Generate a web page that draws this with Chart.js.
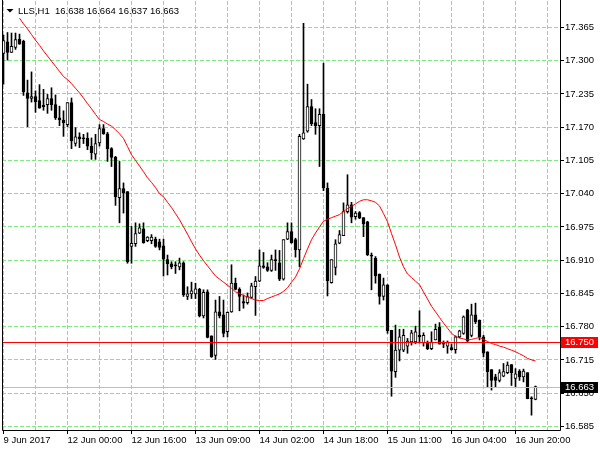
<!DOCTYPE html>
<html><head><meta charset="utf-8">
<script src="https://cdn.jsdelivr.net/npm/chart.js@4.4.0/dist/chart.umd.min.js"></script>
<style>html,body{margin:0;padding:0;background:#fff;}canvas{display:block;}</style>
</head><body>
<canvas id="c" width="600" height="450"></canvas>
<script>
const symbolName = 'LLS,H1';
const opens = [17.314,17.337,17.316,17.326,17.342,17.338,17.237,17.226,17.230,17.222,
 17.213,17.214,17.226,17.214,17.188,17.184,17.175,17.218,17.138,17.151,
 17.148,17.148,17.133,17.117,17.139,17.167,17.157,17.128,17.111,17.032,
 17.050,17.044,16.937,16.942,16.963,16.971,16.948,16.948,16.951,16.946,
 16.938,16.911,16.903,16.901,16.897,16.905,16.839,16.844,16.844,16.853,
 16.801,16.848,16.762,16.724,16.809,16.803,16.770,16.809,16.865,16.853,
 16.829,16.827,16.837,16.858,16.869,16.899,16.897,16.890,16.910,16.905,
 16.873,16.951,16.966,16.950,16.930,17.147,17.162,17.210,17.179,17.173,
 17.195,17.051,16.866,16.896,16.943,16.958,17.005,17.018,16.995,17.003,
 16.993,16.985,16.920,16.914,16.883,16.839,16.862,16.773,16.692,16.734,
 16.734,16.742,16.750,16.750,16.763,16.748,16.750,16.737,16.754,16.779,
 16.748,16.742,16.739,16.735,16.760,16.767,16.813,16.763,16.803,16.793,
 16.760,16.731,16.696,16.682,16.675,16.683,16.690,16.706,16.679,16.693,
 16.682,16.690,16.640,16.638];
const highs = [17.350,17.355,17.354,17.354,17.352,17.340,17.262,17.278,17.241,17.253,
 17.244,17.234,17.247,17.233,17.211,17.202,17.218,17.227,17.169,17.159,
 17.156,17.159,17.149,17.156,17.175,17.175,17.160,17.130,17.113,17.103,
 17.061,17.044,16.976,16.983,16.981,16.983,16.956,16.960,16.955,16.951,
 16.951,16.920,16.907,16.907,16.914,16.907,16.858,16.867,16.865,16.855,
 16.852,16.852,16.762,16.832,16.839,16.832,16.809,16.901,16.875,16.856,
 16.842,16.846,16.865,16.878,16.930,16.925,16.905,16.920,16.930,16.929,
 16.950,16.983,16.983,16.953,17.156,17.373,17.254,17.224,17.206,17.206,
 17.295,17.061,16.911,16.950,16.968,17.022,17.077,17.023,17.005,17.005,
 16.993,16.986,16.924,16.917,16.883,16.875,16.862,16.773,16.783,16.775,
 16.775,16.757,16.773,16.781,16.811,16.768,16.752,16.770,16.785,16.788,
 16.752,16.752,16.746,16.762,16.773,16.801,16.814,16.824,16.826,16.793,
 16.763,16.731,16.696,16.687,16.696,16.708,16.711,16.706,16.698,16.696,
 16.697,16.690,16.643,16.664];
const lows = [17.254,17.301,17.316,17.322,17.332,17.232,17.171,17.219,17.199,17.207,
 17.203,17.197,17.203,17.185,17.173,17.152,17.171,17.128,17.133,17.130,
 17.138,17.126,17.107,17.107,17.133,17.156,17.103,17.093,17.017,16.983,
 17.002,16.904,16.904,16.937,16.962,16.943,16.946,16.942,16.935,16.930,
 16.879,16.881,16.893,16.884,16.891,16.839,16.833,16.835,16.835,16.799,
 16.797,16.758,16.720,16.716,16.797,16.760,16.760,16.808,16.852,16.811,
 16.816,16.824,16.835,16.802,16.868,16.894,16.888,16.888,16.890,16.870,
 16.871,16.950,16.943,16.916,16.897,17.146,17.160,17.173,17.156,17.093,
 17.046,16.840,16.865,16.881,16.942,16.958,17.002,16.983,16.990,16.991,
 16.956,16.919,16.852,16.865,16.824,16.832,16.767,16.644,16.681,16.713,
 16.731,16.728,16.744,16.747,16.748,16.742,16.735,16.735,16.754,16.746,
 16.739,16.728,16.734,16.728,16.758,16.765,16.750,16.760,16.786,16.754,
 16.721,16.662,16.656,16.662,16.672,16.682,16.688,16.665,16.662,16.675,
 16.672,16.639,16.607,16.637];
const closes = [17.339,17.316,17.328,17.341,17.332,17.239,17.226,17.230,17.220,17.207,
 17.210,17.226,17.214,17.188,17.184,17.179,17.218,17.143,17.151,17.147,
 17.147,17.133,17.120,17.138,17.167,17.157,17.128,17.111,17.034,17.050,
 17.042,16.907,16.943,16.962,16.973,16.944,16.955,16.955,16.937,16.935,
 16.912,16.903,16.897,16.899,16.905,16.842,16.844,16.850,16.854,16.801,
 16.847,16.759,16.721,16.809,16.801,16.767,16.808,16.865,16.853,16.839,
 16.826,16.839,16.860,16.869,16.899,16.896,16.890,16.911,16.909,16.873,
 16.950,16.966,16.944,16.930,17.152,17.159,17.210,17.177,17.173,17.195,
 17.051,16.870,16.911,16.942,16.960,17.005,17.018,16.994,17.002,16.992,
 16.981,16.920,16.918,16.879,16.839,16.862,16.772,16.693,16.734,16.760,
 16.763,16.752,16.768,16.770,16.760,16.763,16.737,16.750,16.775,16.746,
 16.746,16.750,16.735,16.760,16.772,16.799,16.752,16.803,16.790,16.760,
 16.728,16.692,16.675,16.675,16.690,16.692,16.705,16.690,16.688,16.682,
 16.693,16.639,16.639,16.663];
const maValues = [null,null,null,null,17.383,17.372,17.362,17.351,17.340,17.330,
 17.319,17.309,17.299,17.289,17.279,17.269,17.263,17.255,17.246,17.237,
 17.227,17.216,17.206,17.195,17.185,17.181,17.176,17.172,17.165,17.157,
 17.148,17.132,17.116,17.105,17.094,17.083,17.071,17.062,17.052,17.040,
 17.034,17.023,17.013,17.001,16.989,16.975,16.961,16.946,16.932,16.920,
 16.909,16.899,16.889,16.879,16.873,16.867,16.861,16.855,16.848,16.845,
 16.841,16.838,16.835,16.832,16.831,16.831,16.835,16.838,16.841,16.844,
 16.849,16.856,16.867,16.877,16.893,16.913,16.932,16.950,16.963,16.975,
 16.986,16.990,16.993,16.996,16.999,17.005,17.011,17.015,17.020,17.025,
 17.028,17.028,17.026,17.023,17.016,17.001,16.985,16.962,16.940,16.916,
 16.897,16.883,16.876,16.869,16.862,16.848,16.834,16.820,16.809,16.798,
 16.787,16.777,16.767,16.761,16.758,16.756,16.754,16.755,16.757,16.759,
 16.755,16.751,16.747,16.745,16.742,16.740,16.737,16.734,16.731,16.727,
 16.723,16.718,16.715,16.713];
const yTicks = [16.585,16.650,16.715,16.780,16.845,16.910,16.975,17.040,17.105,17.170,17.235,17.300,17.365];
const xLabels = ['9 Jun 2017','12 Jun 00:00','12 Jun 16:00','13 Jun 09:00','14 Jun 02:00','14 Jun 18:00','15 Jun 11:00','16 Jun 04:00','16 Jun 20:00'];
const xLabelEvery = 16;
const xGridEvery = 8;
const hLinePrice = 16.750;

const gridColor = '#80e880';
const bidColor = '#80e880';
const hLineColor = '#ff0000';
const FONT = '"Liberation Sans", Arial, sans-serif';
const xMin = -0.375, xMax = 139.125;
const yMin = 16.578, yMax = 17.4166;

const last = opens.length - 1;
const bidPrice = closes[last];
const idx = opens.map((_, i) => i);
const wickData = idx.map(i => ({x: i, y: [lows[i], highs[i]]}));
const bodyData = idx.map(i => ({x: i, y: [Math.min(opens[i], closes[i]), Math.max(opens[i], closes[i])]}));
const bodyFill = idx.map(i => closes[i] > opens[i] ? '#ffffff' : '#000000');
const maData = idx.map(i => ({x: i, y: maValues[i]}));

const mt4Plugin = {
  id: 'mt4',
  afterDatasetsDraw(chart) {
    const {ctx, chartArea: a, scales: {y}} = chart;
    ctx.save();
    const hline = (v, color) => {
      const py = Math.round(y.getPixelForValue(v)) + 0.5;
      ctx.strokeStyle = color; ctx.lineWidth = 1;
      ctx.beginPath(); ctx.moveTo(a.left, py); ctx.lineTo(a.right, py); ctx.stroke();
    };
    hline(bidPrice, bidColor);
    hline(hLinePrice, hLineColor);
    ctx.restore();
  },
  afterDraw(chart) {
    const {ctx, chartArea: a, scales: {y}} = chart;
    ctx.save();
    ctx.strokeStyle = '#000'; ctx.lineWidth = 1;
    ctx.beginPath();
    ctx.moveTo(a.left + 0.5, 0); ctx.lineTo(a.left + 0.5, a.bottom + 0.5);
    ctx.lineTo(a.right + 0.5, a.bottom + 0.5); ctx.lineTo(a.right + 0.5, 0);
    ctx.stroke();
    const box = (v, bg) => {
      const py = Math.round(y.getPixelForValue(v));
      ctx.fillStyle = bg; ctx.fillRect(a.right + 1, py - 5, 37, 11);
      ctx.fillStyle = '#fff'; ctx.font = '9.5px ' + FONT;
      ctx.textAlign = 'left'; ctx.textBaseline = 'middle';
      ctx.fillText(v.toFixed(3), a.right + 5, py + 0.5);
    };
    box(hLinePrice, hLineColor);
    box(bidPrice, '#000');
    ctx.fillStyle = '#000';
    ctx.beginPath(); ctx.moveTo(6.5, 9); ctx.lineTo(13.5, 9); ctx.lineTo(10, 12.5); ctx.closePath(); ctx.fill();
    ctx.font = '9.5px ' + FONT; ctx.textAlign = 'left'; ctx.textBaseline = 'alphabetic';
    const f = v => v.toFixed(3);
    ctx.fillText(symbolName + '  ' + f(opens[last]) + ' ' + f(highs[last]) + ' ' + f(lows[last]) + ' ' + f(closes[last]), 18, 14);
    ctx.restore();
  }
};

new Chart(document.getElementById('c'), {
  type: 'bar',
  data: { datasets: [
    {type: 'line', data: maData, borderColor: '#ff0000', borderWidth: 1, pointRadius: 0, tension: 0, order: 1},
    {type: 'bar', data: bodyData, backgroundColor: bodyFill, borderColor: '#000', borderWidth: 1,
      borderSkipped: false, barThickness: 3, grouped: false, minBarLength: 1, order: 2},
    {type: 'bar', data: wickData, backgroundColor: '#000', borderWidth: 0, barThickness: 1, grouped: false, order: 3}
  ]},
  options: {
    responsive: false, animation: false, devicePixelRatio: 1,
    layout: {padding: {left: 2, top: 1, right: 0, bottom: 0}},
    plugins: {legend: {display: false}, tooltip: {enabled: false}, title: {display: false}},
    scales: {
      x: {
        type: 'linear', min: xMin, max: xMax, offset: false, bounds: 'data',
        afterBuildTicks: s => { const t = []; for (let v = 0; v <= xMax; v += xGridEvery) t.push({value: v}); s.ticks = t; },
        afterFit: s => { s.height = 20; s.paddingLeft = 0; s.paddingRight = 0; },
        ticks: {autoSkip: false, maxRotation: 0, minRotation: 0, align: 'start', padding: 1, color: '#000',
          font: {family: FONT, size: 9.5},
          callback: v => (v % xLabelEvery === 0 ? (xLabels[v / xLabelEvery] || '') : '')},
        grid: {offset: false, color: gridColor, lineWidth: 1, drawTicks: true, tickLength: 4, tickWidth: 1,
          tickColor: c => (c.tick && c.tick.value % xLabelEvery === 0) ? '#000' : 'rgba(0,0,0,0)'},
        border: {display: false, dash: [4, 2]}
      },
      y: {
        position: 'right', min: yMin, max: yMax, bounds: 'data', beginAtZero: false,
        afterBuildTicks: s => { s.ticks = yTicks.map(v => ({value: v})); },
        afterFit: s => { s.width = 40; s.paddingTop = 0; s.paddingBottom = 0; },
        ticks: {autoSkip: false, padding: 1, color: '#000', font: {family: FONT, size: 9.5},
          callback: v => Number(v).toFixed(3)},
        grid: {color: gridColor, lineWidth: 1, drawTicks: true, tickLength: 4, tickWidth: 1, tickColor: '#000'},
        border: {display: false, dash: [4, 2]}
      }
    }
  },
  plugins: [mt4Plugin]
});
</script>
</body></html>
